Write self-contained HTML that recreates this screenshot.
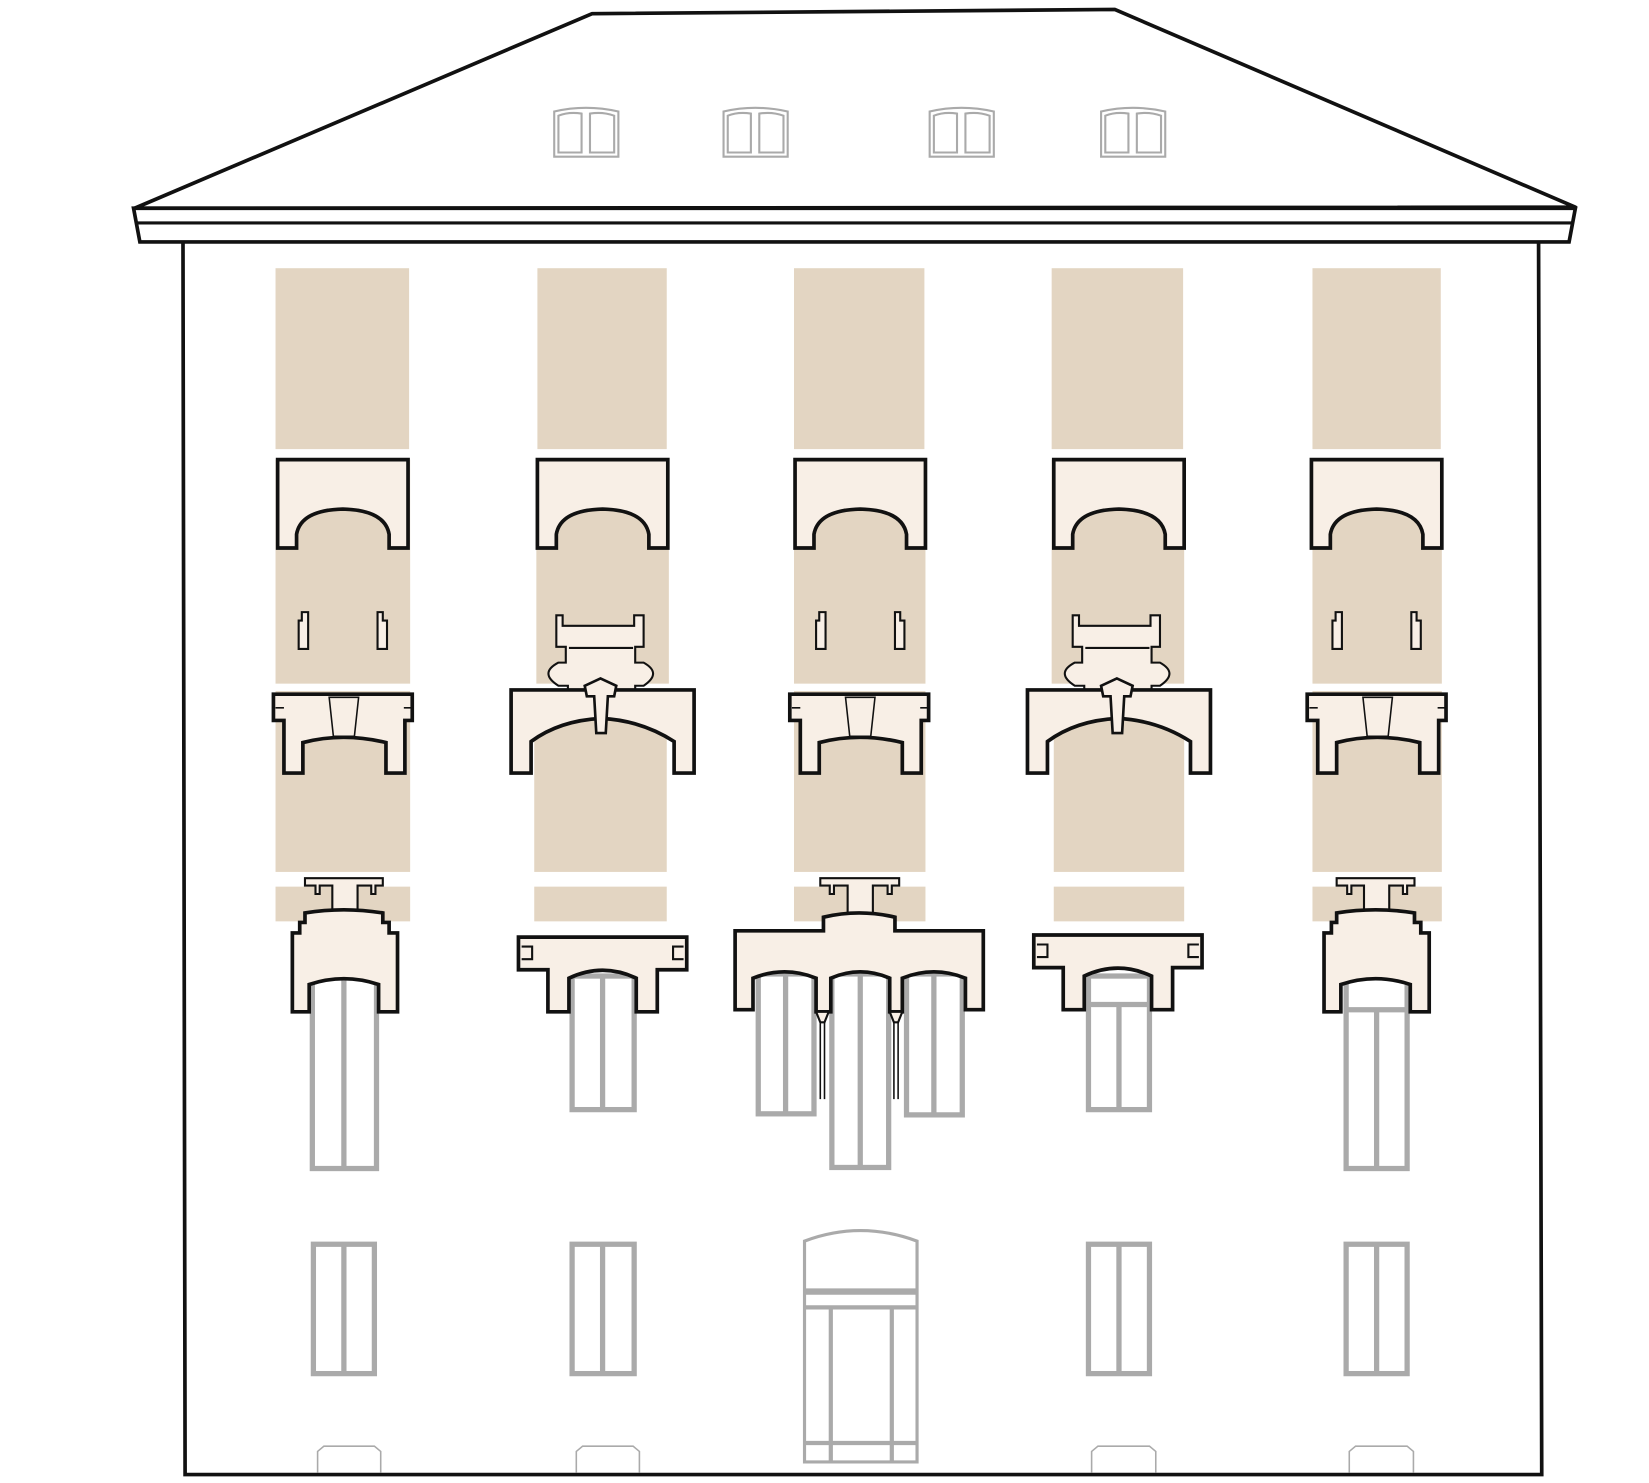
<!DOCTYPE html>
<html><head><meta charset="utf-8"><style>html,body{margin:0;padding:0;background:#fff}svg{display:block}</style></head>
<body>
<svg width="1649" height="1483" viewBox="0 0 1568 1410" preserveAspectRatio="none" xmlns="http://www.w3.org/2000/svg">
<defs>
<g id="win1"><!-- generic tall window drawn via transform -->
</g>
</defs>
<rect width="1568" height="1410" fill="#fff"/>
<!-- roof -->
<polygon points="128,198 563,13 1060,9 1498,197" fill="#fff" stroke="#111" stroke-width="3.5" stroke-linejoin="round"/>
<path d="M127,198 H1498 L1492,230 H133 Z" fill="#fff" stroke="#111" stroke-width="3.5"/>
<line x1="129" y1="212" x2="1495" y2="212" stroke="#111" stroke-width="3"/>
<!-- walls -->
<path d="M174,230 L176,1402 H1466 L1463,230" fill="none" stroke="#111" stroke-width="3.5"/>
<!-- dormers -->
<g fill="#fff" stroke="#aaa" stroke-width="2">
<g id="dm"><path d="M527,149 V106 Q557,99 588,106 V149 Z"/><path d="M531,145 V110 Q541,106 553,108 V145 Z M561,145 V108 Q573,106 584,110 V145 Z"/></g>
<use href="#dm" x="161"/><use href="#dm" x="357"/><use href="#dm" x="520"/>
</g>
<!-- beige columns -->
<g fill="#e3d5c2">
<rect x="262" y="255" width="127" height="172"/><rect x="262" y="437" width="128" height="213"/><rect x="262" y="657" width="128" height="172"/><rect x="262" y="843" width="128" height="33"/>
<rect x="511" y="255" width="123" height="172"/><rect x="510" y="437" width="126" height="213"/><rect x="508" y="657" width="126" height="172"/><rect x="508" y="843" width="126" height="33"/>
<rect x="755" y="255" width="124" height="172"/><rect x="755" y="437" width="125" height="213"/><rect x="755" y="657" width="125" height="172"/><rect x="755" y="843" width="125" height="33"/>
<rect x="1000" y="255" width="125" height="172"/><rect x="1000" y="437" width="126" height="213"/><rect x="1002" y="657" width="124" height="172"/><rect x="1002" y="843" width="124" height="33"/>
<rect x="1248" y="255" width="122" height="172"/><rect x="1248" y="437" width="123" height="213"/><rect x="1248" y="657" width="123" height="172"/><rect x="1248" y="843" width="123" height="33"/>
</g>
<!-- upper hoods -->
<g fill="#f8efe6" stroke="#111" stroke-width="3.5" stroke-linejoin="miter">
<g id="hd"><path d="M264,437 H388 V521 H370 V508 Q366,485 326,484 Q286,485 282,508 V521 H264 Z"/></g>
<use href="#hd" x="247"/><use href="#hd" x="492"/><use href="#hd" x="738"/><use href="#hd" x="983"/>
</g>
<!-- small brackets -->
<g fill="#f8efe6" stroke="#111" stroke-width="2">
<g id="br"><path d="M284,617 V590 H287 V582 H293 V617 Z"/><path d="M359,617 V582 H364 V590 H368 V617 Z"/></g>
<use href="#br" x="492"/><use href="#br" x="983"/>
</g>
<!-- second row hoods (bays 1,3,5) -->
<g fill="#f8efe6" stroke="#111" stroke-width="3.5">
<g id="h2"><path d="M260,660 H392 V685 H385 V735 H367 V706 Q326,696 288,706 V735 H270 V685 H260 Z"/>
<path d="M313,663 H341 L337,700 H317 Z" stroke-width="1.5" fill="none"/>
<path d="M262,673 H270 M384,673 H392" stroke-width="1.5"/></g>
<use href="#h2" x="491"/><use href="#h2" x="983"/>
</g>
<!-- second row hoods (bays 2,4) -->
<g fill="#f8efe6" stroke="#111" stroke-width="3.5">
<g id="h3">
<path d="M529,615 V585 H535 V595 H603 V585 H612 V615 H604 V630 H612 Q630,640 612,652 H604 V656 H540 V652 H531 Q512,640 531,630 H538 V615 Z" stroke-width="2"/>
<path d="M541,616 H602" stroke-width="2"/>
<path d="M486,656 H660 V735 H641 V705 Q610,685 572,683 Q532,685 505,705 V735 H486 Z"/>
<path d="M556,652 L571,645 L586,652 L584,662 H578 L576,697 H567 L565,662 H558 Z" stroke-width="2.5"/>
</g>
<use href="#h3" x="491"/>
</g>
<!-- windows (grey) -->
<g fill="#fff" stroke="#aaa" stroke-width="5">
<!-- bay1 upper -->
<rect x="297" y="928" width="61" height="183"/><line x1="327" y1="928" x2="327" y2="1111"/>
<rect x="1280" y="928" width="58" height="183"/><line x1="1309" y1="960" x2="1309" y2="1111"/><line x1="1280" y1="960" x2="1338" y2="960"/>
<rect x="544" y="928" width="59" height="127"/><line x1="573" y1="928" x2="573" y2="1055"/>
<rect x="1035" y="928" width="58" height="127"/><line x1="1064" y1="955" x2="1064" y2="1055"/><line x1="1035" y1="955" x2="1093" y2="955"/>
<rect x="721" y="926" width="53" height="133"/><line x1="747" y1="926" x2="747" y2="1059"/>
<rect x="791" y="926" width="54" height="184"/><line x1="818" y1="926" x2="818" y2="1110"/>
<rect x="862" y="926" width="53" height="134"/><line x1="888" y1="926" x2="888" y2="1060"/>
<!-- ground -->
<rect x="298" y="1183" width="58" height="123"/><line x1="327" y1="1183" x2="327" y2="1306"/>
<rect x="544" y="1183" width="59" height="123"/><line x1="573" y1="1183" x2="573" y2="1306"/>
<rect x="1035" y="1183" width="58" height="123"/><line x1="1064" y1="1183" x2="1064" y2="1306"/>
<rect x="1280" y="1183" width="58" height="123"/><line x1="1309" y1="1183" x2="1309" y2="1306"/>
<path d="M765,1390 V1180 Q818,1160 872,1180 V1390 Z" stroke-width="3"/>
<line x1="765" y1="1228" x2="872" y2="1228" stroke-width="6"/>
<line x1="765" y1="1243" x2="872" y2="1243" stroke-width="4"/>
<line x1="790" y1="1243" x2="790" y2="1390" stroke-width="4"/><line x1="848" y1="1243" x2="848" y2="1390" stroke-width="4"/>
<line x1="765" y1="1372" x2="872" y2="1372" stroke-width="4"/>
<!-- vents -->
<g stroke-width="1.5">
<path d="M302,1400 V1380 L308,1375 H356 L362,1380 V1400"/>
<path d="M548,1400 V1380 L554,1375 H602 L608,1380 V1400"/>
<path d="M1038,1400 V1380 L1044,1375 H1093 L1099,1380 V1400"/>
<path d="M1283,1400 V1380 L1289,1375 H1338 L1344,1380 V1400"/>
</g>
</g>
<!-- third row hoods -->
<g fill="#f8efe6" stroke="#111" stroke-width="3.5">
<g id="h4">
<path d="M290,835 H364 V842 H357 V850 H353 V842 H340 V866 H316 V842 H304 V850 H300 V842 H290 Z" stroke-width="2"/>
<path d="M290,868 Q327,862 364,868 V877 H370 V887 H378 V962 H360 V936 Q327,925 294,936 V962 H278 V887 H285 V877 H290 Z"/>
</g>
<use href="#h4" x="981"/>
<path d="M493,891 H653 V922 H625 V962 H605 V930 Q573,915 541,930 V962 H521 V922 H493 Z"/>
<path d="M496,900 H506 V912 H496 M650,900 H640 V912 H650" stroke-width="2"/>
<path d="M983,889 H1143 V920 H1115 V960 H1095 V928 Q1063,913 1031,928 V960 H1011 V920 H983 Z"/>
<path d="M986,898 H996 V910 H986 M1140,898 H1130 V910 H1140" stroke-width="2"/>
<path d="M780,835 H855 V842 H848 V850 H844 V842 H830 V870 H806 V842 H793 V850 H789 V842 H780 Z" stroke-width="2"/>
<path d="M783,872 Q817,864 851,872 V885 H935 V960 H918 V930 Q888,918 858,930 V962 H846 V930 Q818,918 790,930 V962 H776 V930 Q746,918 716,930 V960 H699 V885 H783 Z"/>
<path d="M776,962 H788 L784,972 H780 Z M846,962 H858 L854,972 H850 Z" stroke-width="2"/>
<path d="M780,972 V1045 M784,972 V1045 M850,972 V1045 M854,972 V1045" stroke-width="1.5" fill="none"/>
</g>
</svg>
</body></html>
